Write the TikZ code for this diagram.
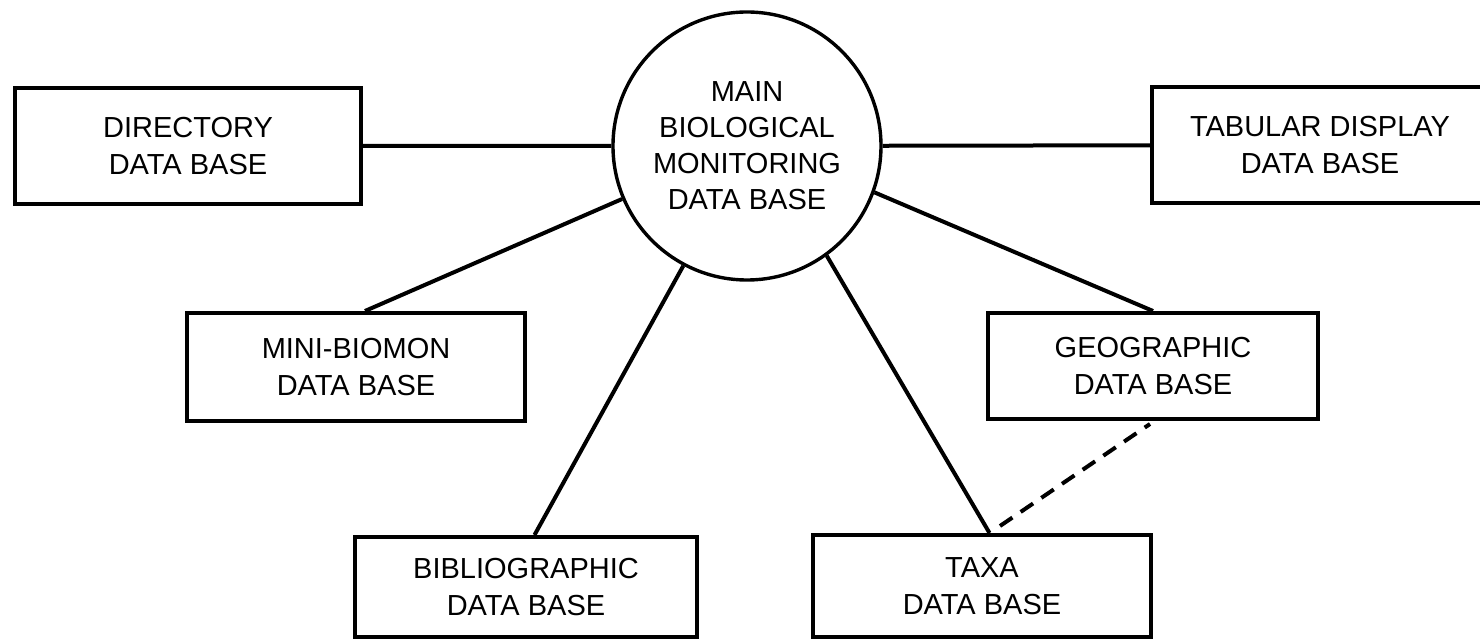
\documentclass[tikz,border=0pt]{standalone}
\usepackage{fontspec}
\setmainfont{Liberation Sans}
\tikzstyle{db}=[draw,line width=2pt,align=center,inner sep=0pt,
  font=\fontsize{14.5}{18.5}\selectfont]
\tikzstyle{hub}=[draw,circle,line width=1.7pt,align=center,inner sep=0pt,
  minimum size=134pt,font=\fontsize{14.5}{18}\selectfont]
\tikzstyle{link}=[line width=2pt]
\tikzstyle{weak}=[line width=2pt,dash pattern=on 7.5pt off 5pt]

\begin{document}
\begin{tikzpicture}[x=0.5pt, y=-0.5pt]
  \useasboundingbox (0,0) rectangle (1480,640);
  \node[hub]                                      (main) at (747,146) {MAIN\\BIOLOGICAL\\MONITORING\\DATA BASE};
  \node[db, minimum width=173pt, minimum height=58pt] (dir)  at (188,146)  {DIRECTORY\\DATA BASE};
  \node[db, minimum width=176pt, minimum height=58pt] (tab)  at (1328,145) {\hspace*{-8pt}TABULAR DISPLAY\\\hspace*{-8pt}DATA BASE};
  \node[db, minimum width=169pt, minimum height=54pt] (mini) at (356,367)  {MINI-BIOMON\\DATA BASE};
  \node[db, minimum width=165pt, minimum height=53pt] (geo)  at (1153,366) {GEOGRAPHIC\\DATA BASE};
  \node[db, minimum width=171pt, minimum height=50pt] (bib)  at (526,587)  {BIBLIOGRAPHIC\\DATA BASE};
  \node[db, minimum width=169pt, minimum height=51pt] (taxa) at (982,586)  {TAXA\\DATA BASE};

  \draw[link] (dir) -- (main) (main) -- (tab);
  \draw[link] ([xshift=4.5pt]mini.north) -- (main.203);
  \draw[link] (geo.north) -- (main.-20);
  \draw[link] ([xshift=4.25pt]bib.north) -- (main.242);
  \draw[link] ([xshift=3.75pt]taxa.north) -- (main.-54.5);
  \draw[weak] ([xshift=9pt,yshift=3.5pt]taxa.north) -- ([xshift=-1.5pt,yshift=-1.5pt]geo.south);
\end{tikzpicture}
\end{document}
